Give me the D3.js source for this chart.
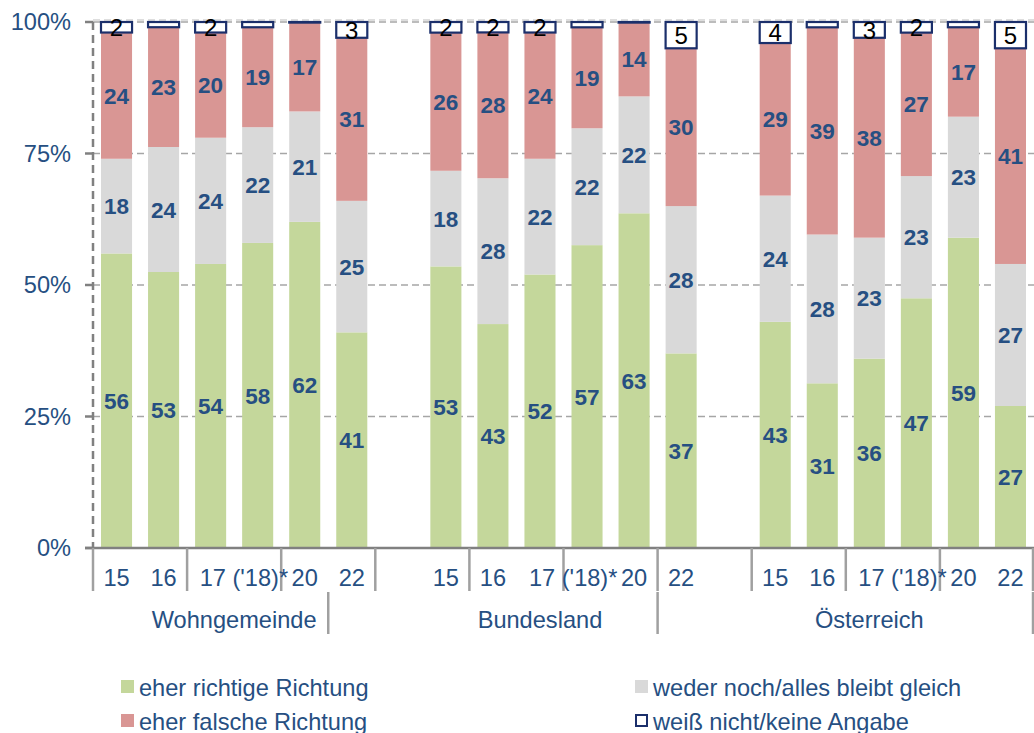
<!DOCTYPE html>
<html>
<head>
<meta charset="utf-8">
<script src="https://cdn.jsdelivr.net/npm/d3@7"></script>
<style>
  body { margin: 0; background: #fff; }
  text { font-family: "Liberation Sans", Arial, sans-serif; }
</style>
</head>
<body>
<div id="chart"></div>
<script>
const groups = ["Wohngemeinde", "Bundesland", "Österreich"];
const years = ["15", "16", "17", "18", "20", "22"];
const yearLabels = ["15", "16", "17 ('18)*", "", "20", "22"];
const richtig = [56, 53, 54, 58, 62, 41, 53, 43, 52, 57, 63, 37, 43, 31, 36, 47, 59, 27];
const gleich = [18, 24, 24, 22, 21, 25, 18, 28, 22, 22, 22, 28, 24, 28, 23, 23, 23, 27];
const falsch = [24, 23, 20, 19, 17, 31, 26, 28, 24, 19, 14, 30, 29, 39, 38, 27, 17, 41];
const weissNicht = [2, 1, 2, 1, 0, 3, 2, 2, 2, 1, 0, 5, 4, 1, 3, 2, 1, 5];
const yTicks = [0, 0.25, 0.5, 0.75, 1];

const seriesNames = ["eher richtige Richtung", "weder noch/alles bleibt gleich", "eher falsche Richtung", "weiß nicht/keine Angabe"];
const keys = ["richtig", "gleich", "falsch", "weiss"];
const colors = { richtig: "#c4d79b", gleich: "#d9d9d9", falsch: "#d99694", weiss: "#ffffff" };
const navy = "#264f82";
const boxStroke = "#1b2f6b";
const fontSize = "23.6px";

const width = 1034;
const height = 733;
const plotLeft = 93, plotRight = 1034, plotTop = 22, plotBottom = 548;

// build rows, with gap slots between groups
const slots = [];
const rows = [];
groups.forEach((g, gi) => {
    if (gi > 0) slots.push("gap" + gi);
    years.forEach((yr, yi) => {
        const i = gi * years.length + yi;
        const key = g + "|" + yr;
        slots.push(key);
        rows.push({ key: key, yi: yi, richtig: richtig[i], gleich: gleich[i], falsch: falsch[i], weiss: weissNicht[i] });
    });
});

const x = d3.scaleBand()
    .domain(slots)
    .range([plotLeft, plotRight])
    .paddingInner(0.34)
    .paddingOuter(0.17);

const y = d3.scaleLinear().domain([0, 1]).range([plotBottom, plotTop]);

const stacked = d3.stack().keys(keys).offset(d3.stackOffsetExpand)(rows);

const svg = d3.select("#chart")
    .append("svg")
        .attr("width", width)
        .attr("height", height)
        .attr("viewBox", [0, 0, width, height]);

// gridlines
svg.append("g")
    .selectAll("line")
    .data(yTicks.filter(t => t > 0))
    .enter().append("line")
        .attr("x1", plotLeft).attr("x2", plotRight)
        .attr("y1", d => y(d)).attr("y2", d => y(d))
        .attr("stroke", "#a6a6a6")
        .attr("stroke-width", 1.5)
        .attr("stroke-dasharray", "7,4");
svg.append("line")
    .attr("x1", plotLeft).attr("x2", plotRight)
    .attr("y1", y(1) - 2).attr("y2", y(1) - 2)
    .attr("stroke", "#bdbdbd")
    .attr("stroke-width", 1)
    .attr("stroke-dasharray", "7,4");

// bars
const layer = svg.append("g").selectAll("g")
    .data(stacked)
    .enter().append("g")
        .attr("fill", d => colors[d.key]);

layer.selectAll("rect")
    .data(d => d.map(p => ({ key: d.key, p: p })))
    .enter().append("rect")
        .attr("x", d => x(d.p.data.key))
        .attr("width", x.bandwidth())
        .attr("y", d => y(d.p[1]))
        .attr("height", d => Math.max(0.6, y(d.p[0]) - y(d.p[1])))
        .attr("stroke", d => d.key === "weiss" ? boxStroke : "none")
        .attr("stroke-width", d => d.key === "weiss" ? 2.2 : 0);

// labels
layer.selectAll("text")
    .data(d => d.map(p => ({ key: d.key, p: p, v: p.data[d.key] })))
    .enter().append("text")
        .filter(d => d.key !== "weiss" || d.v >= 2)
        .attr("x", d => x(d.p.data.key) + x.bandwidth() / 2)
        .attr("y", d => (y(d.p[0]) + y(d.p[1])) / 2)
        .attr("dy", "0.36em")
        .attr("text-anchor", "middle")
        .attr("font-size", d => d.key === "weiss" ? "24px" : "22.5px")
        .attr("font-weight", d => d.key === "weiss" ? "normal" : "bold")
        .attr("fill", d => d.key === "weiss" ? "#000" : navy)
        .text(d => d.v);

// y axis (dashed line)
svg.append("line")
    .attr("x1", plotLeft).attr("x2", plotLeft)
    .attr("y1", plotTop).attr("y2", plotBottom)
    .attr("stroke", "#808080")
    .attr("stroke-width", 2.5)
    .attr("stroke-dasharray", "8,5");

const yAxis = svg.append("g");
yAxis.selectAll("line")
    .data(yTicks)
    .enter().append("line")
        .attr("x1", plotLeft - 8).attr("x2", plotLeft)
        .attr("y1", d => y(d)).attr("y2", d => y(d))
        .attr("stroke", "#808080")
        .attr("stroke-width", 2.5);
yAxis.selectAll("text")
    .data(yTicks)
    .enter().append("text")
        .attr("x", 71)
        .attr("y", d => y(d))
        .attr("dy", "0.36em")
        .attr("text-anchor", "end")
        .attr("font-size", fontSize)
        .attr("fill", navy)
        .text(d3.format(".0%"));

// x axis
const step = x.step();
svg.append("line")
    .attr("x1", plotLeft - 8).attr("x2", plotRight)
    .attr("y1", plotBottom).attr("y2", plotBottom)
    .attr("stroke", "#808080")
    .attr("stroke-width", 2.5);

svg.append("g").selectAll("line")
    .data(d3.range(0, slots.length / 2 + 1))
    .enter().append("line")
        .attr("x1", k => Math.min(plotLeft + k * 2 * step, plotRight - 1))
        .attr("x2", k => Math.min(plotLeft + k * 2 * step, plotRight - 1))
        .attr("y1", plotBottom).attr("y2", plotBottom + 43)
        .attr("stroke", "#a0a0a0")
        .attr("stroke-width", 2.5);

svg.append("g").selectAll("text")
    .data(rows)
    .enter().append("text")
        .attr("x", d => x(d.key) + x.bandwidth() / 2 + (yearLabels[d.yi].length > 2 ? -11 : 0))
        .attr("y", 586)
        .attr("text-anchor", d => yearLabels[d.yi].length > 2 ? "start" : "middle")
        .attr("font-size", fontSize)
        .attr("fill", navy)
        .text(d => yearLabels[d.yi]);

// group labels and dividers
const groupCenters = [3, 9.5, 16.5];
const groupBounds = [5, 12, 20];
svg.append("g").selectAll("line")
    .data(groupBounds)
    .enter().append("line")
        .attr("x1", b => Math.min(plotLeft + b * step, plotRight - 1))
        .attr("x2", b => Math.min(plotLeft + b * step, plotRight - 1))
        .attr("y1", 592).attr("y2", 634)
        .attr("stroke", "#a0a0a0")
        .attr("stroke-width", 2.5);
svg.append("g").selectAll("text")
    .data(groups)
    .enter().append("text")
        .attr("x", (g, i) => plotLeft + groupCenters[i] * step)
        .attr("y", 628)
        .attr("text-anchor", "middle")
        .attr("font-size", fontSize)
        .attr("fill", navy)
        .text(g => g);

// legend
const legendPos = [[121, 687], [635, 687], [121, 721], [635, 721]];
const legend = svg.append("g").selectAll("g")
    .data(keys)
    .enter().append("g")
        .attr("transform", (k, i) => "translate(" + legendPos[i][0] + "," + legendPos[i][1] + ")");
legend.append("rect")
    .attr("x", k => k === "weiss" ? 1 : 0)
    .attr("y", k => k === "weiss" ? -6 : -7)
    .attr("width", k => k === "weiss" ? 11 : 13)
    .attr("height", k => k === "weiss" ? 11 : 13)
    .attr("fill", k => colors[k])
    .attr("stroke", k => k === "weiss" ? boxStroke : "none")
    .attr("stroke-width", 2);
legend.append("text")
    .attr("x", 18)
    .attr("dy", "0.36em")
    .attr("font-size", fontSize)
    .attr("fill", navy)
    .text((k, i) => seriesNames[i]);
</script>
</body>
</html>
